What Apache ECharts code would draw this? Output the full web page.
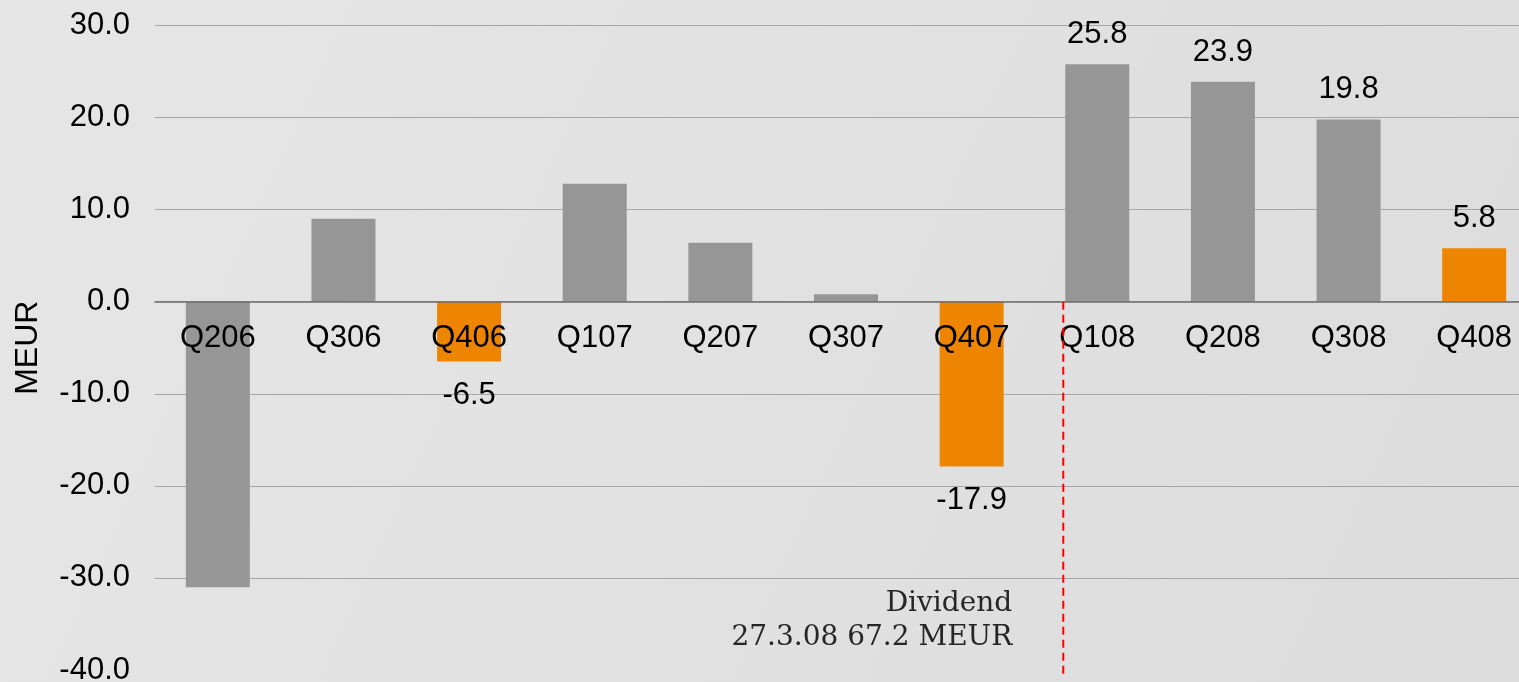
<!DOCTYPE html>
<html>
<head>
<meta charset="utf-8">
<script src="https://cdn.jsdelivr.net/npm/echarts@6/dist/echarts.min.js"></script>
<style>
  html, body { margin: 0; padding: 0; }
  #chart { width: 1519px; height: 682px; }
</style>
</head>
<body>
<div id="chart"></div>
<script>
// Quarterly figures, MEUR
const quarters = ['Q206', 'Q306', 'Q406', 'Q107', 'Q207', 'Q307', 'Q407', 'Q108', 'Q208', 'Q308', 'Q408'];
const values = [-31.0, 9.0, -6.5, 12.8, 6.4, 0.8, -17.9, 25.8, 23.9, 19.8, 5.8];
// Fourth quarters are shown in orange
const fourthQuarters = ['Q406', 'Q407', 'Q408'];
// Quarters whose value is printed next to the bar
const labelledQuarters = ['Q406', 'Q407', 'Q108', 'Q208', 'Q308', 'Q408'];
// Dividend payment: marked just before the first quarter of 2008
const dividendQuarter = 'Q108';
const dividendText = 'Dividend\n27.3.08 67.2 MEUR';
const yTicks = { min: -40, max: 30, interval: 10 };

const GREY = '#969696';
const ORANGE = '#ee8500';
const BAR_WIDTH = 64;

const barData = values.map((v, i) => {
  const q = quarters[i];
  return {
    value: v,
    itemStyle: { color: fourthQuarters.includes(q) ? ORANGE : GREY },
    label: {
      show: labelledQuarters.includes(q),
      position: v >= 0 ? 'top' : 'bottom',
      distance: v >= 0 ? 14 : 18
    }
  };
});

const chart = echarts.init(document.getElementById('chart'));
chart.setOption({
  backgroundColor: {
    type: 'linear', x: 0, y: 0, x2: 1, y2: 1,
    colorStops: [
      { offset: 0, color: '#e6e6e6' },
      { offset: 1, color: '#dcdcdc' }
    ]
  },
  animation: false,
  grid: {
    left: 155, right: -18, top: 25.5, bottom: 12,
    containLabel: false,
    outerBoundsMode: 'none'
  },
  xAxis: {
    type: 'category',
    data: quarters,
    position: 'bottom',
    z: 10,
    axisLine: { onZero: false, lineStyle: { color: '#6e6e6e', width: 1.5 } },
    axisTick: { show: false },
    axisLabel: {
      margin: 21,
      color: '#000',
      fontFamily: 'Liberation Sans, Arial, sans-serif',
      fontSize: 31
    }
  },
  yAxis: {
    type: 'value',
    min: yTicks.min,
    max: yTicks.max,
    interval: yTicks.interval,
    name: 'MEUR',
    nameLocation: 'middle',
    nameRotate: 90,
    nameGap: 111,
    nameTextStyle: {
      color: '#000',
      fontFamily: 'Liberation Sans, Arial, sans-serif',
      fontSize: 32
    },
    axisLine: { show: false },
    axisTick: { show: false },
    axisLabel: {
      margin: 25,
      color: '#000',
      fontFamily: 'Liberation Sans, Arial, sans-serif',
      fontSize: 31,
      formatter: v => v.toFixed(1)
    },
    splitLine: {
      showMinLine: false,
      lineStyle: { color: '#a6a6a6', width: 1.2 }
    }
  },
  series: [
    {
      type: 'bar',
      data: barData,
      barWidth: BAR_WIDTH,
      label: {
        color: '#000',
        fontFamily: 'Liberation Sans, Arial, sans-serif',
        fontSize: 31,
        formatter: p => p.value.toFixed(1)
      }
    }
  ]
});

// Lift the category axis (line and labels) from the grid's bottom edge to the zero line
const zeroY = chart.convertToPixel({ yAxisIndex: 0 }, 0);
const bottomY = chart.convertToPixel({ yAxisIndex: 0 }, yTicks.min);
chart.setOption({ xAxis: { offset: zeroY - bottomY } });

// Dashed dividend marker just left of the Q108 bar, plus its caption
const markerX = chart.convertToPixel({ xAxisIndex: 0 }, dividendQuarter) - BAR_WIDTH / 2 - 2;
chart.setOption({
  graphic: [
    {
      type: 'line',
      z: 20,
      shape: { x1: markerX, y1: zeroY, x2: markerX, y2: bottomY + 4 },
      style: { stroke: '#ff0000', lineWidth: 2, lineDash: [8, 5] },
      silent: true
    },
    {
      type: 'text',
      x: markerX - 51,
      y: 587,
      style: {
        text: dividendText,
        align: 'right',
        verticalAlign: 'top',
        fill: '#262626',
        font: '28px "DejaVu Serif", serif',
        lineHeight: 34
      }
    }
  ]
});
</script>
</body>
</html>
